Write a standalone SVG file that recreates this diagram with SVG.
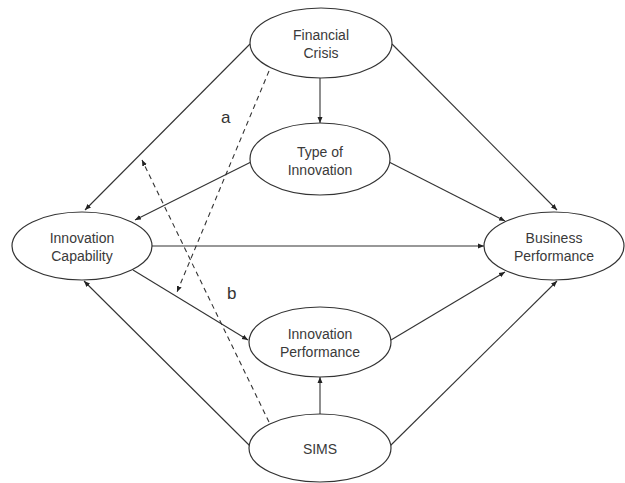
<svg xmlns="http://www.w3.org/2000/svg" width="625" height="483" viewBox="0 0 625 483">
<defs>
<style>
.node ellipse{fill:#fff;stroke:#333;stroke-width:1.2}
.node text{font-family:"Liberation Sans",Arial,sans-serif;font-size:14px;fill:#3a3a3a;text-anchor:middle}
.conn line{stroke:#333;stroke-width:1.1;fill:none}
.conn .dash{stroke-dasharray:5,4}
.lbl{font-family:"Liberation Sans",Arial,sans-serif;font-size:17px;fill:#333}
</style>
<marker id="ah" markerUnits="userSpaceOnUse" markerWidth="6" markerHeight="6" refX="6" refY="3" orient="auto">
<path d="M0,0.5 L6,3 L0,5.5 Z" fill="#222"/>
</marker>
</defs>
<rect width="625" height="483" fill="#fff"/>
<g id="connectors" class="conn">
<line x1="320" y1="78" x2="320" y2="123" marker-end="url(#ah)"/>
<line x1="250" y1="44" x2="85" y2="210" marker-end="url(#ah)"/>
<line x1="392" y1="44" x2="557" y2="210" marker-end="url(#ah)"/>
<line x1="251" y1="162" x2="135" y2="220" marker-end="url(#ah)"/>
<line x1="389" y1="162" x2="505" y2="221" marker-end="url(#ah)"/>
<line x1="152" y1="246" x2="484" y2="246" marker-end="url(#ah)"/>
<line x1="133" y1="270" x2="248" y2="340" marker-end="url(#ah)"/>
<line x1="391" y1="340" x2="505" y2="272" marker-end="url(#ah)"/>
<line x1="320" y1="414" x2="320" y2="377" marker-end="url(#ah)"/>
<line x1="250" y1="446" x2="84" y2="281" marker-end="url(#ah)"/>
<line x1="390" y1="446" x2="557" y2="281" marker-end="url(#ah)"/>
<line class="dash" x1="269" y1="71" x2="177" y2="292" marker-end="url(#ah)"/>
<line class="dash" x1="269" y1="422" x2="142" y2="160" marker-end="url(#ah)"/>
</g>
<g id="financial-crisis" class="node">
<ellipse cx="321" cy="43" rx="71" ry="35"/>
<text x="321" y="40">Financial</text>
<text x="321" y="58">Crisis</text>
</g>
<g id="type-of-innovation" class="node">
<ellipse cx="320" cy="159" rx="70" ry="36"/>
<text x="320" y="157">Type of</text>
<text x="320" y="175">Innovation</text>
</g>
<g id="innovation-capability" class="node">
<ellipse cx="82" cy="246" rx="70" ry="34"/>
<text x="82" y="243">Innovation</text>
<text x="82" y="261">Capability</text>
</g>
<g id="business-performance" class="node">
<ellipse cx="554" cy="246" rx="70" ry="34"/>
<text x="554" y="243">Business</text>
<text x="554" y="261">Performance</text>
</g>
<g id="innovation-performance" class="node">
<ellipse cx="320" cy="342" rx="71" ry="35"/>
<text x="320" y="339">Innovation</text>
<text x="320" y="357">Performance</text>
</g>
<g id="sims" class="node">
<ellipse cx="320" cy="448" rx="71" ry="34"/>
<text x="320" y="454">SIMS</text>
</g>
<text class="lbl" x="221" y="123">a</text>
<text class="lbl" x="227" y="299">b</text>
</svg>
